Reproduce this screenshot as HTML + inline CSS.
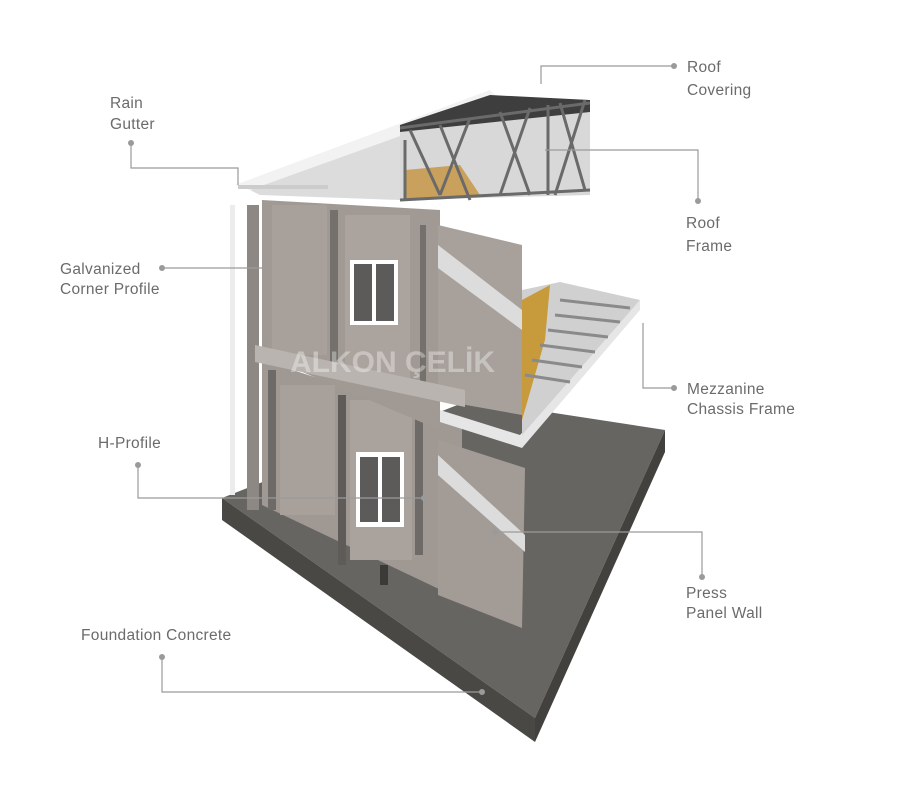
<!DOCTYPE html>
<html><head><meta charset="utf-8"><style>
body{margin:0;background:#fff;width:917px;height:803px;overflow:hidden}
svg{position:absolute;left:0;top:0}
.t{font-family:"Liberation Sans",sans-serif;font-size:15.5px;fill:#6b6b6b;letter-spacing:.3px}
</style></head><body>
<svg width="917" height="803" viewBox="0 0 917 803">
<!-- foundation -->
<polygon points="222,498 470,400 665,430 535,718" fill="#676562"/>
<polygon points="222,498 535,718 535,742 222,520" fill="#4a4845"/>
<polygon points="535,718 665,430 665,452 535,742" fill="#43413e"/>
<!-- lower walls left face -->
<polygon points="262,360 462,425 462,600 262,505" fill="#9f9893"/>
<rect x="280" y="385" width="55" height="130" fill="#a8a19b"/>
<rect x="350" y="400" width="62" height="160" fill="#aaa39d"/>
<rect x="268" y="370" width="8" height="140" fill="#6e6a67"/>
<rect x="338" y="395" width="8" height="170" fill="#5f5b58"/>
<rect x="415" y="405" width="8" height="150" fill="#6e6a67"/>
<rect x="380" y="565" width="8" height="20" fill="#3b3a39"/>
<!-- lower right face panel -->
<polygon points="438,440 525,468 522,628 438,595" fill="#a39c96"/>
<polygon points="438,455 525,535 525,552 438,475" fill="#dcdcdc"/>
<!-- lower window -->
<rect x="356" y="452" width="48" height="75" fill="#fff"/>
<rect x="360" y="457" width="18" height="65" fill="#5d5b5a"/>
<rect x="382" y="457" width="18" height="65" fill="#5d5b5a"/>
<!-- upper walls -->
<polygon points="262,200 440,210 440,430 262,355" fill="#a19a94"/>
<rect x="272" y="205" width="55" height="150" fill="#a8a19b"/>
<rect x="345" y="215" width="65" height="165" fill="#aba49e"/>
<rect x="330" y="210" width="8" height="160" fill="#74706c"/>
<rect x="420" y="225" width="6" height="170" fill="#74706c"/>
<polygon points="438,225 522,245 522,415 438,400" fill="#a8a19b"/>
<polygon points="438,245 522,310 522,330 438,268" fill="#dcdcdc"/>
<!-- upper window -->
<rect x="350" y="260" width="48" height="65" fill="#fff"/>
<rect x="354" y="264" width="18" height="57" fill="#5d5b5a"/>
<rect x="376" y="264" width="18" height="57" fill="#5d5b5a"/>
<!-- left profiles, gutter pipe -->
<rect x="247" y="205" width="12" height="305" fill="#8d8884"/>
<rect x="230" y="205" width="5" height="290" fill="#ececec"/>
<polygon points="255,345 465,390 465,407 255,362" fill="#b9b4b0"/>
<!-- mezzanine floor -->
<polygon points="440,410 520,435 640,300 640,310 522,448 440,422" fill="#e6e6e6"/>
<polygon points="522,290 560,282 640,300 522,435" fill="#d0d0d0"/>
<polygon points="522,300 550,285 545,340 522,420" fill="#c79a3c"/>
<g stroke="#8a8a8a" stroke-width="3"><path d="M560,300 L630,308 M555,315 L620,322 M548,330 L608,337 M540,345 L595,352 M532,360 L582,367 M525,375 L570,382"/></g>
<!-- roof -->
<polygon points="235,185 490,90 500,100 250,190" fill="#f2f2f2"/>
<polygon points="250,190 500,100 400,190 400,200 260,195" fill="#dcdcdc"/>
<polygon points="400,125 590,100 590,195 400,200" fill="#d8d8d8"/>
<polygon points="490,95 590,100 590,112 400,132 400,125" fill="#3e3e3e"/>
<polygon points="405,170 460,165 480,195 405,200" fill="#c9a15c"/>
<g stroke="#6a6a6a" stroke-width="3" fill="none">
<path d="M410,130 L440,195 M440,125 L470,200 M470,118 L440,195 M500,112 L530,195 M530,108 L500,195 M560,103 L585,190 M585,100 L555,195 M400,200 L590,190 M400,128 L590,103 M405,140 V200 M548,105 V195"/>
</g>
<rect x="238" y="185" width="90" height="4" fill="#ccc"/>
<!-- watermark -->
<text x="290" y="372" font-family="Liberation Sans,sans-serif" font-size="30" font-weight="bold" fill="#fff" opacity=".35">ALKON ÇELİK</text>
<!-- leader lines -->
<g stroke="#9a9a9a" stroke-width="1.2" fill="none">
<path d="M672,66 H541 V84"/><path d="M545,150 H698 V200"/>
<path d="M131,143 V168 H238 V185"/><path d="M165,268 H262"/>
<path d="M643,323 V388 H672"/><path d="M138,465 V498 H424"/>
<path d="M495,532 H702 V575"/><path d="M162,657 V692 H482"/>
</g>
<g fill="#9a9a9a">
<circle cx="674" cy="66" r="3"/><circle cx="698" cy="201" r="3"/><circle cx="131" cy="143" r="3"/>
<circle cx="162" cy="268" r="3"/><circle cx="674" cy="388" r="3"/><circle cx="138" cy="465" r="3"/>
<circle cx="424" cy="498" r="3"/><circle cx="495" cy="532" r="3"/><circle cx="702" cy="577" r="3"/>
<circle cx="162" cy="657" r="3"/><circle cx="482" cy="692" r="3"/>
</g>
<text class="t" x="687" y="72">Roof</text><text class="t" x="687" y="95">Covering</text>
<text class="t" x="110" y="108">Rain</text><text class="t" x="110" y="129">Gutter</text>
<text class="t" x="686" y="228">Roof</text><text class="t" x="686" y="251">Frame</text>
<text class="t" x="60" y="274">Galvanized</text><text class="t" x="60" y="294">Corner Profile</text>
<text class="t" x="687" y="394">Mezzanine</text><text class="t" x="687" y="414">Chassis Frame</text>
<text class="t" x="98" y="448">H-Profile</text>
<text class="t" x="686" y="598">Press</text><text class="t" x="686" y="618">Panel Wall</text>
<text class="t" x="81" y="640">Foundation Concrete</text>
</svg>
</body></html>
